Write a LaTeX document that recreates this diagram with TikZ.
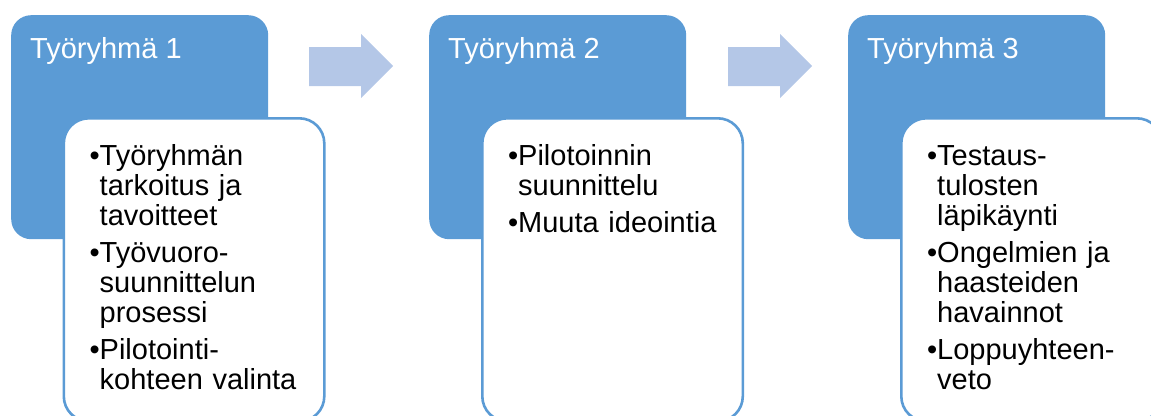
\documentclass[tikz,border=0pt]{standalone}
\usepackage{fontspec}
\setmainfont{Liberation Sans}
\definecolor{hdrblue}{HTML}{5B9BD5}
\definecolor{arrowblue}{HTML}{B4C7E7}
% one bullet item with a hanging indent, closed as its own paragraph
\newcommand\bitem[1]{\par\hangindent=10pt\hangafter=1\noindent\makebox[10pt][l]{•}#1\par}
% fixed height for the first line of a list
\newcommand\firstline{\rule{0pt}{28pt}}
\tikzset{
  hdrbox/.style={fill=hdrblue, rounded corners=20pt, inner sep=0pt, anchor=north west,
                 minimum width=257pt, minimum height=224pt},
  listbox/.style={fill=white, draw=hdrblue, line width=2.6pt, rounded corners=25pt,
                  inner sep=0pt, anchor=north west, minimum width=260.5pt, minimum height=303pt},
  hdrtext/.style={text=white, anchor=base west, inner sep=0pt,
                  font=\fontsize{29}{30}\selectfont},
  listtext/.style={text=black, anchor=north west, inner sep=0pt, text width=220pt,
                   font=\fontsize{29}{30}\selectfont\setlength\parskip{7pt}\setlength\parindent{0pt}\raggedright},
  flowarrow/.style={fill=arrowblue}
}
\begin{document}
\begin{tikzpicture}[x=1pt, y=-1pt]
\useasboundingbox (0,0) rectangle (1151,415);
\clip (0,0) rectangle (1151,415);

% group 1
\node[hdrbox] (g1) at (11,15) {};
\node[hdrtext] (h1) at (30,58) {Työryhmä 1};
\node[listbox] (w1) at (62.5,117) {};
\node[listtext] (t1) at (89.5,128) {%
  \bitem{\firstline Työryhmän\newline tarkoitus ja\newline tavoitteet}
  \bitem{Työvuoro-\newline suunnittelun\newline prosessi}
  \bitem{Pilotointi-\newline kohteen valinta}};

% arrow 1 -> 2
\fill[flowarrow] (309,47) -- (361,47) -- (361,34) -- (393,66) -- (361,98) -- (361,86) -- (309,86) -- cycle;

% group 2
\node[hdrbox] (g2) at (429,15) {};
\node[hdrtext] (h2) at (448,58) {Työryhmä 2};
\node[listbox] (w2) at (481,117) {};
\node[listtext] (t2) at (508,128) {%
  \bitem{\firstline Pilotoinnin\newline suunnittelu}
  \bitem{Muuta ideointia}};

% arrow 2 -> 3
\fill[flowarrow] (728,47) -- (780,47) -- (780,34) -- (812,66) -- (780,98) -- (780,86) -- (728,86) -- cycle;

% group 3
\node[hdrbox] (g3) at (848,15) {};
\node[hdrtext] (h3) at (867,58) {Työryhmä 3};
\node[listbox] (w3) at (900,117) {};
\node[listtext] (t3) at (927,128) {%
  \bitem{\firstline Testaus-\newline tulosten\newline läpikäynti}
  \bitem{Ongelmien ja\newline haasteiden\newline havainnot}
  \bitem{Loppuyhteen-\newline veto}};
\end{tikzpicture}
\end{document}
